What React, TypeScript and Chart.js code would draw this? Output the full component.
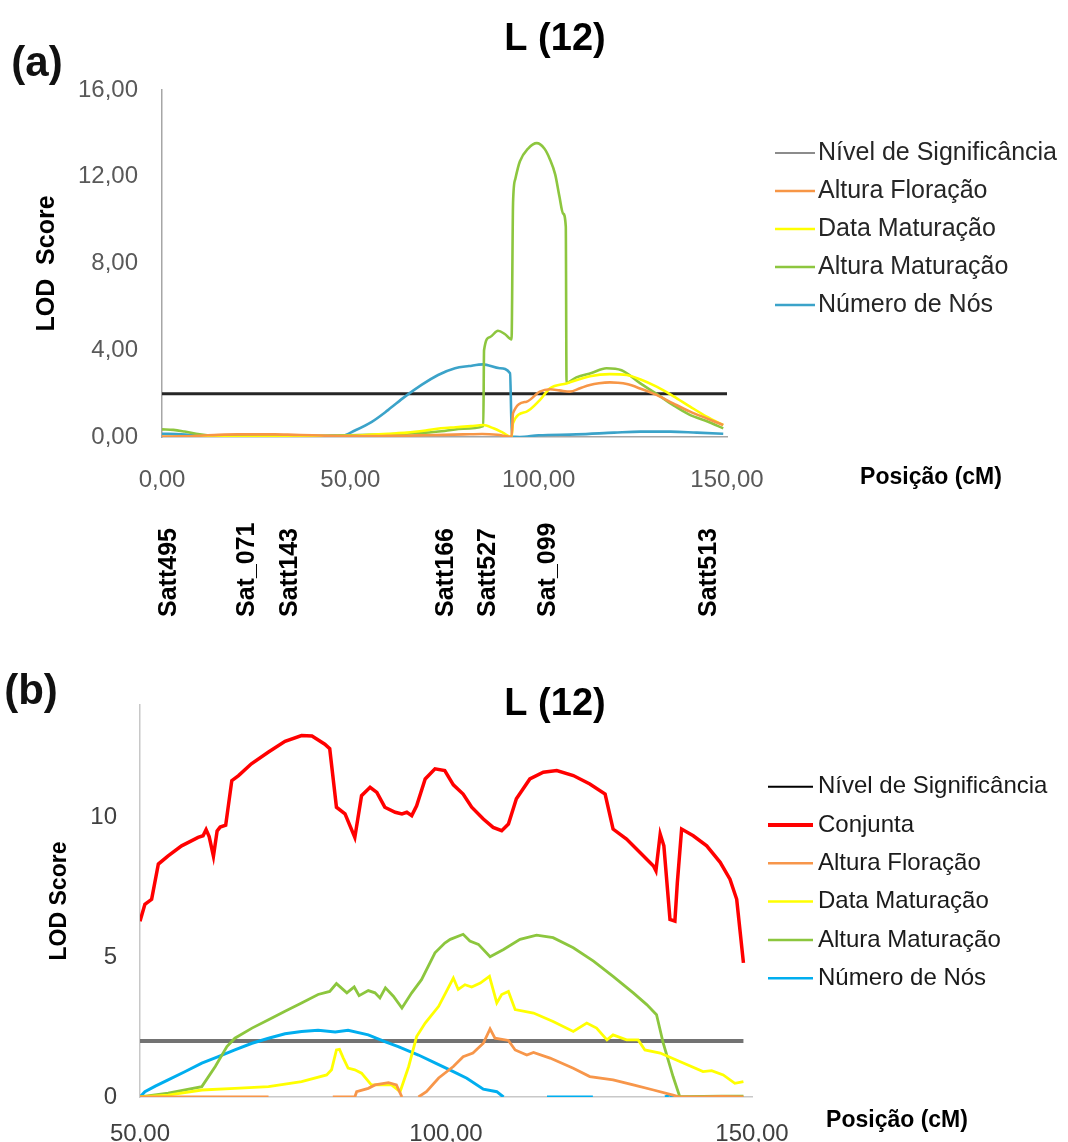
import React, { useEffect, useRef } from "react";
import { Chart, registerables } from "chart.js";

Chart.register(...registerables);

const FONT = '"Liberation Sans", Arial, Helvetica, sans-serif';
Chart.defaults.font.family = FONT;

// ---------------- (a) data ----------------
const aXTicks = [0, 50, 100, 150];
const aYTicks = [0, 4, 8, 12, 16];

const aSigX = [0, 150];
const aSigY = [2.0, 2.0];

const aFloracaoX = [0, 5, 10, 15, 20, 25, 30, 35, 40, 45, 50, 55, 60, 65, 70, 75, 80, 85, 89, 92.8, 93.2, 96.8, 100.3, 103, 105.5, 108.3, 111, 113.6, 116, 118.9, 121, 123.4, 126.9, 131.3, 135.7, 140.2, 144.6, 149];
const aFloracaoY = [0.02, 0.03, 0.06, 0.1, 0.12, 0.12, 0.12, 0.1, 0.08, 0.05, 0.04, 0.04, 0.05, 0.06, 0.08, 0.1, 0.12, 0.14, 0.1, 0.0, 1.1, 1.63, 2.09, 2.2, 2.15, 2.09, 2.25, 2.4, 2.48, 2.52, 2.5, 2.44, 2.24, 1.94, 1.55, 1.17, 0.86, 0.55];

const aDataMatX = [0, 10, 20, 30, 40, 45, 50, 55, 60, 65, 70, 74, 78, 82, 85.2, 88, 90.5, 92.8, 93.2, 96.8, 100.3, 103, 107.4, 113.6, 118.9, 123.4, 126.9, 131.3, 135.7, 140.2, 144.6, 149];
const aDataMatY = [0.0, 0.0, 0.0, 0.01, 0.02, 0.03, 0.05, 0.1, 0.15, 0.2, 0.3, 0.4, 0.45, 0.5, 0.55, 0.4, 0.2, 0.0, 0.65, 1.17, 1.7, 2.24, 2.47, 2.8, 2.9, 2.86, 2.66, 2.32, 1.89, 1.4, 0.94, 0.55];

const aAlturaMatX = [0, 3, 6, 10, 14, 20, 30, 40, 50, 60, 70, 75, 80, 85.3, 85.5, 87, 89.2, 91, 92.8, 93.2, 93.8, 95, 97.2, 99.5, 101.5, 103, 104.4, 105.5, 106.5, 107.2, 107.4, 110, 114, 118, 122, 127, 131, 135.7, 140, 145, 149];
const aAlturaMatY = [0.35, 0.33, 0.25, 0.12, 0.05, 0.03, 0.03, 0.05, 0.08, 0.12, 0.2, 0.28, 0.38, 0.5, 4.0, 4.6, 4.9, 4.75, 4.5, 10.8, 11.9, 12.7, 13.3, 13.55, 13.3, 12.8, 12.1, 11.1, 10.3, 9.7, 2.5, 2.75, 2.95, 3.17, 3.08, 2.47, 2.02, 1.47, 1.03, 0.7, 0.4];

const aNosX = [0, 5, 10, 15, 20, 30, 40, 45, 47.7, 51.2, 55.7, 60, 64.5, 68.9, 73.3, 77.8, 81.5, 85.2, 89.7, 92.4, 92.9, 95, 100, 110, 120, 127, 135, 142, 149];
const aNosY = [0.15, 0.13, 0.08, 0.04, 0.02, 0.02, 0.03, 0.04, 0.05, 0.3, 0.7, 1.24, 1.86, 2.4, 2.86, 3.17, 3.27, 3.35, 3.17, 2.94, 0.02, 0.0, 0.08, 0.12, 0.2, 0.25, 0.25, 0.2, 0.15];

const markerNames = ["Satt495", "Sat_071", "Satt143", "Satt166", "Satt527", "Sat_099", "Satt513"];
const markerPos = [1.9, 22.6, 33.9, 75.4, 86.6, 102.6, 145.3];

// ---------------- (b) data ----------------
const bXTicks = [50, 100, 150];
const bYTicks = [0, 5, 10];

const bSigX = [50, 148.6];
const bSigY = [2.0, 2.0];

const bConjuntaX = [50.0, 50.8, 51.9, 53.0, 54.6, 56.8, 59.5, 60.3, 60.8, 61.3, 62.0, 62.6, 63.1, 64.0, 65.0, 66.1, 68.2, 71.0, 73.7, 76.4, 78.1, 80.2, 81.0, 82.1, 83.5, 85.1, 86.2, 87.6, 88.7, 90.0, 91.7, 92.8, 93.6, 94.4, 95.2, 96.6, 98.2, 99.8, 101.2, 102.8, 104.2, 106.1, 107.7, 109.1, 110.2, 111.5, 113.7, 115.9, 118.1, 120.8, 123.5, 126.0, 127.3, 129.5, 131.7, 133.9, 134.3, 135.0, 135.6, 136.6, 137.4, 137.8, 138.5, 140.4, 142.6, 144.8, 146.4, 147.5, 148.6];
const bConjuntaY = [6.28, 6.88, 7.06, 8.32, 8.61, 8.97, 9.27, 9.33, 9.55, 9.3, 8.6, 9.5, 9.64, 9.71, 11.3, 11.48, 11.9, 12.32, 12.7, 12.91, 12.89, 12.6, 12.44, 10.35, 10.11, 9.27, 10.76, 11.06, 10.88, 10.35, 10.17, 10.11, 10.17, 10.05, 10.4, 11.36, 11.72, 11.66, 11.15, 10.82, 10.35, 9.93, 9.63, 9.51, 9.75, 10.65, 11.36, 11.6, 11.66, 11.48, 11.18, 10.82, 9.57, 9.21, 8.73, 8.25, 8.08, 9.39, 8.97, 6.34, 6.28, 7.66, 9.57, 9.33, 8.97, 8.38, 7.78, 7.06, 4.79];

const bFloracaoX = [50, 60, 71, 76, 81.5, 85.1, 85.4, 87.3, 88.4, 90.6, 91.9, 92.8, 94, 95.5, 96.8, 98.8, 101.2, 102.8, 104.4, 106.1, 107.2, 108.0, 110.2, 111.3, 113.2, 114.3, 117.0, 120.8, 123.5, 127.3, 130.6, 133.9, 137.1, 138.2, 142, 145, 148.6];
const bFloracaoY = [0, 0, 0, null, 0, 0, 0.19, 0.31, 0.43, 0.51, 0.43, 0.0, null, 0.0, 0.19, 0.68, 1.09, 1.44, 1.57, 1.92, 2.43, 2.1, 2.02, 1.68, 1.5, 1.59, 1.39, 1.03, 0.73, 0.61, 0.43, 0.25, 0.07, 0.0, 0.0, 0.02, 0.0];

const bDataMatX = [50, 54.6, 60.1, 65.5, 71.0, 76.4, 80.5, 81.3, 82.1, 82.6, 83.2, 84.0, 85.1, 86.2, 87.8, 89.5, 91.1, 92.5, 93.9, 95.2, 96.6, 98.8, 101.2, 102.0, 103.1, 104.2, 105.6, 107.1, 108.3, 109.1, 110.2, 111.3, 114.3, 117.5, 120.8, 123.0, 124.6, 126.3, 127.3, 129.5, 131.4, 132.5, 135.0, 138.2, 142.0, 143.4, 145.3, 147.2, 148.6];
const bDataMatY = [0.0, 0.07, 0.25, 0.31, 0.37, 0.55, 0.79, 0.97, 1.68, 1.7, 1.4, 1.03, 0.97, 0.85, 0.43, 0.43, 0.43, 0.19, 1.09, 2.16, 2.64, 3.24, 4.25, 3.84, 4.01, 3.93, 4.07, 4.31, 3.36, 3.66, 3.77, 3.12, 3.0, 2.7, 2.34, 2.64, 2.46, 2.04, 2.22, 2.04, 2.04, 1.68, 1.57, 1.27, 0.91, 0.94, 0.79, 0.49, 0.55];

const bAlturaMatX = [50, 54.6, 60.1, 62.3, 64.2, 65.5, 68.3, 71.0, 73.7, 76.4, 79.1, 81.0, 82.1, 83.8, 85.0, 85.8, 87.3, 88.4, 89.2, 90.1, 91.4, 92.8, 94.4, 96.0, 98.2, 99.8, 100.7, 102.8, 103.9, 105.3, 107.2, 109.4, 112.1, 114.8, 117.5, 120.8, 124.1, 127.3, 130.6, 132.8, 134.4, 135.5, 137.1, 138.2, 142, 145, 148.6];
const bAlturaMatY = [0.0, 0.14, 0.37, 1.09, 1.8, 2.1, 2.46, 2.76, 3.06, 3.36, 3.66, 3.77, 4.05, 3.72, 3.93, 3.62, 3.8, 3.72, 3.54, 3.9, 3.6, 3.18, 3.72, 4.19, 5.15, 5.5, 5.63, 5.81, 5.57, 5.45, 5.01, 5.27, 5.63, 5.78, 5.69, 5.33, 4.85, 4.31, 3.72, 3.3, 2.94, 1.92, 0.73, 0.01, 0.02, 0.03, 0.03];

const bNosX = [50, 50.8, 52.5, 54.6, 57.4, 60.1, 62.8, 65.5, 68.3, 71.0, 73.7, 76.4, 79.1, 81.9, 84.0, 87.3, 90.0, 92.2, 95.5, 98.2, 101.2, 103.4, 106.1, 108.3, 109.4, 113, 116.5, 124, 130, 135.8, 136.5, 137.2];
const bNosY = [0, 0.19, 0.39, 0.61, 0.91, 1.21, 1.44, 1.68, 1.92, 2.1, 2.26, 2.34, 2.38, 2.32, 2.38, 2.22, 1.98, 1.8, 1.5, 1.22, 0.91, 0.67, 0.28, 0.19, 0.0, null, 0, 0, null, 0, 0.08, 0];

// ---------------- helpers ----------------
const zip = (xs: number[], ys: (number | null)[]) => xs.map((x, i) => ({ x, y: ys[i] }));
const comma = (v: number) => v.toFixed(2).replace(".", ",");

function textPlugin(id: string, items: any[]) {
  return {
    id,
    afterDraw(chart: any) {
      const ctx = chart.ctx;
      for (const t of items) {
        ctx.save();
        ctx.font = t.font;
        ctx.fillStyle = t.color || "#000";
        ctx.textAlign = t.align || "center";
        ctx.textBaseline = "middle";
        ctx.translate(t.x, t.y);
        if (t.rot) ctx.rotate(t.rot);
        ctx.fillText(t.text, 0, 0);
        ctx.restore();
      }
    },
  };
}

function legendPlugin(id: string, cfg: any) {
  return {
    id,
    afterDraw(chart: any) {
      const ctx = chart.ctx;
      chart.data.datasets.forEach((ds: any, k: number) => {
        const y = cfg.y + k * cfg.spacing;
        ctx.save();
        ctx.strokeStyle = ds.legendColor || ds.borderColor;
        ctx.lineWidth = ds.legendWidth || 2.5;
        ctx.beginPath();
        ctx.moveTo(cfg.x, y);
        ctx.lineTo(cfg.x + cfg.len, y);
        ctx.stroke();
        ctx.font = cfg.font;
        ctx.fillStyle = cfg.color;
        ctx.textAlign = "left";
        ctx.textBaseline = "middle";
        ctx.fillText(ds.label, cfg.x + cfg.len + cfg.gap, y);
        ctx.restore();
      });
    },
  };
}

const markerPlugin = {
  id: "markers",
  afterDraw(chart: any) {
    const ctx = chart.ctx;
    const xs = chart.scales.x;
    markerNames.forEach((name, i) => {
      const px = xs.getPixelForValue(markerPos[i]);
      ctx.save();
      ctx.translate(px, 617);
      ctx.rotate(-Math.PI / 2);
      ctx.font = `bold 25px ${FONT}`;
      ctx.fillStyle = "#000";
      ctx.textAlign = "left";
      ctx.textBaseline = "middle";
      ctx.fillText(name, 0, 0);
      ctx.restore();
    });
  },
};

const line = (label: string, xs: number[], ys: any[], color: string, width: number, extra: any = {}) => ({
  label,
  data: zip(xs, ys),
  borderColor: color,
  backgroundColor: color,
  borderWidth: width,
  pointRadius: 0,
  fill: false,
  tension: 0,
  ...extra,
});

// ---------------- configs ----------------
function configA(): any {
  const smooth = { cubicInterpolationMode: "monotone" };
  return {
    type: "line",
    data: {
      datasets: [
        line("Nível de Significância", aSigX, aSigY, "#262626", 3, { order: 10, legendColor: "#8c8c8c", legendWidth: 2 }),
        line("Altura Floração", aFloracaoX, aFloracaoY, "#F79646", 2.6, smooth),
        line("Data Maturação", aDataMatX, aDataMatY, "#FFFF00", 2.6, smooth),
        line("Altura Maturação", aAlturaMatX, aAlturaMatY, "#8DC63F", 2.6, smooth),
        line("Número de Nós", aNosX, aNosY, "#3BA3C9", 2.6, smooth),
      ],
    },
    options: {
      responsive: false,
      maintainAspectRatio: false,
      animation: false,
      events: [],
      layout: { padding: { left: 42, right: 0, top: 0, bottom: 133 } },
      plugins: {
        legend: { display: false },
        tooltip: { enabled: false },
        title: {
          display: true,
          text: "L (12)",
          color: "#000",
          font: { family: FONT, size: 38, weight: "bold" },
          padding: { top: 17.2, bottom: 27.2 },
        },
      },
      scales: {
        x: {
          type: "linear",
          min: 0,
          max: 150,
          afterBuildTicks: (s: any) => { s.ticks = aXTicks.map((v) => ({ value: v })); },
          afterFit: (s: any) => { s.height = 70; },
          ticks: { callback: (v: number) => comma(v), color: "#595959", font: { family: FONT, size: 24 }, padding: 29, maxRotation: 0, autoSkip: false },
          grid: { display: false, drawTicks: false },
          border: { display: true, color: "#a6a6a6", width: 1.5 },
        },
        y: {
          type: "linear",
          min: 0,
          max: 16,
          afterBuildTicks: (s: any) => { s.ticks = aYTicks.map((v) => ({ value: v })); },
          afterFit: (s: any) => { s.width = 120; },
          ticks: { callback: (v: number) => comma(v), color: "#595959", font: { family: FONT, size: 24 }, padding: 24, autoSkip: false },
          grid: { display: false, drawTicks: false },
          border: { display: true, color: "#a6a6a6", width: 1.5 },
          title: { display: true, text: "LOD  Score", color: "#000", font: { family: FONT, size: 25, weight: "bold" }, padding: { top: -10, bottom: 0 } },
        },
        pad: {
          type: "linear",
          axis: "y",
          position: "right",
          display: true,
          ticks: { display: false },
          grid: { display: false, drawTicks: false },
          border: { display: false },
          afterFit: (s: any) => { s.width = 341; },
        },
      },
    },
    plugins: [
      textPlugin("textsA", [
        { text: "(a)", x: 37, y: 64, font: `bold 42px ${FONT}`, color: "#111" },
        { text: "Posição (cM)", x: 931, y: 478, font: `bold 23px ${FONT}`, color: "#000" },
      ]),
      legendPlugin("legendA", { x: 775, y: 153, spacing: 38, len: 40, gap: 3, font: `25px ${FONT}`, color: "#262626" }),
      markerPlugin,
    ],
  };
}

function configB(): any {
  return {
    type: "line",
    data: {
      datasets: [
        line("Nível de Significância", bSigX, bSigY, "#737373", 4, { order: 10, legendColor: "#000", legendWidth: 2 }),
        line("Conjunta", bConjuntaX, bConjuntaY, "#FF0000", 3.5, { legendWidth: 4 }),
        line("Altura Floração", bFloracaoX, bFloracaoY, "#F7964A", 2.8),
        line("Data Maturação", bDataMatX, bDataMatY, "#FFFF00", 2.8),
        line("Altura Maturação", bAlturaMatX, bAlturaMatY, "#8CC63E", 2.8),
        line("Número de Nós", bNosX, bNosY, "#00AEEF", 3),
      ],
    },
    options: {
      responsive: false,
      maintainAspectRatio: false,
      animation: false,
      events: [],
      layout: { padding: { left: 42, right: 0, top: 0, bottom: 0 } },
      plugins: {
        legend: { display: false },
        tooltip: { enabled: false },
        title: {
          display: true,
          text: "L (12)",
          color: "#000",
          font: { family: FONT, size: 38, weight: "bold" },
          padding: { top: 42.2, bottom: -22.8 },
        },
      },
      scales: {
        x: {
          type: "linear",
          min: 50,
          max: 150,
          afterBuildTicks: (s: any) => { s.ticks = bXTicks.map((v) => ({ value: v })); },
          afterFit: (s: any) => { s.height = 45; },
          ticks: { callback: (v: number) => comma(v), color: "#404040", font: { family: FONT, size: 24 }, padding: 22.5, maxRotation: 0, autoSkip: false },
          grid: { display: false, drawTicks: false },
          border: { display: true, color: "#c8c8c8", width: 1.5 },
        },
        y: {
          type: "linear",
          min: 0,
          max: 14,
          afterBuildTicks: (s: any) => { s.ticks = bYTicks.map((v) => ({ value: v })); },
          afterFit: (s: any) => { s.width = 98; },
          ticks: { callback: (v: number) => String(v), color: "#404040", font: { family: FONT, size: 24 }, padding: 23, autoSkip: false },
          grid: { display: false, drawTicks: false },
          border: { display: true, color: "#c8c8c8", width: 1.5 },
          title: { display: true, text: "LOD Score", color: "#000", font: { family: FONT, size: 23, weight: "bold" }, padding: { top: 4.2, bottom: 0 } },
        },
        pad: {
          type: "linear",
          axis: "y",
          position: "right",
          display: true,
          ticks: { display: false },
          grid: { display: false, drawTicks: false },
          border: { display: false },
          afterFit: (s: any) => { s.width = 316; },
        },
      },
    },
    plugins: [
      textPlugin("textsB", [
        { text: "(b)", x: 31, y: 52, font: `bold 42px ${FONT}`, color: "#111" },
        { text: "Posição (cM)", x: 897, y: 481, font: `bold 23px ${FONT}`, color: "#000" },
      ]),
      legendPlugin("legendB", { x: 768, y: 146.7, spacing: 38.3, len: 45, gap: 5, font: `24px ${FONT}`, color: "#1a1a1a" }),
    ],
  };
}

function ChartCanvas({ make, width, height, top }: { make: () => any; width: number; height: number; top: number }) {
  const ref = useRef<HTMLCanvasElement | null>(null);
  useEffect(() => {
    const chart = new Chart(ref.current as HTMLCanvasElement, make());
    return () => chart.destroy();
  }, []);
  return (
    <canvas
      ref={ref}
      width={width}
      height={height}
      style={{ position: "absolute", left: 0, top, width, height, display: "block" }}
    />
  );
}

export default function App() {
  return (
    <div style={{ position: "absolute", left: 0, top: 0, width: 1068, height: 1142, background: "#fff", overflow: "hidden" }}>
      <ChartCanvas make={configA} width={1068} height={640} top={0} />
      <ChartCanvas make={configB} width={1068} height={502} top={640} />
    </div>
  );
}
